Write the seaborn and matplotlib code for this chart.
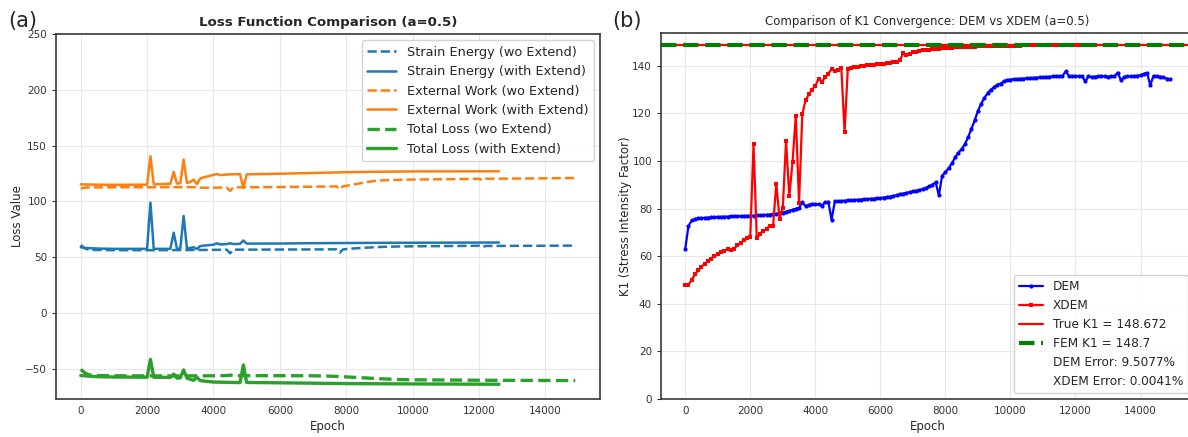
import matplotlib
matplotlib.use("Agg")
import matplotlib.pyplot as plt
import numpy as np
import pandas as pd
import seaborn as sns

# ---------------- Panel (a): loss terms ----------------
se_wo_epoch = [0, 100, 200, 400, 1000, 2000, 3000, 3500, 4000, 4400, 4500, 4600, 5000, 6000, 7000,
               7700, 7800, 7900, 8200, 8600, 9000, 9500, 10000, 11000, 12000, 12100, 12200, 13000, 14000, 14900]
se_wo_value = [61.0, 58.5, 57.0, 56.5, 56.3, 56.3, 56.4, 56.5, 56.6, 56.8, 53.5, 56.8, 56.8, 56.9, 57.0,
               57.1, 54.0, 57.0, 57.8, 58.6, 59.2, 59.6, 59.8, 60.0, 60.3, 59.0, 60.1, 60.2, 60.3, 60.4]

se_ext_epoch = [0, 100, 500, 1000, 2000, 2100, 2200, 2700, 2800, 2900, 3000, 3100, 3200, 3300, 3400,
                3500, 3600, 3800, 4000, 4100, 4200, 4400, 4500, 4600, 4800, 4900, 5000, 6000, 7000, 9000, 12600]
se_ext_value = [59.0, 58.3, 57.8, 57.5, 57.5, 99.0, 57.5, 57.5, 72.0, 57.5, 58.0, 87.0, 58.0, 58.3, 59.0,
                57.3, 60.0, 60.7, 61.2, 62.5, 61.5, 61.8, 62.5, 61.8, 62.0, 65.0, 62.2, 62.3, 62.6, 62.9, 63.2]

ew_wo_epoch = [0, 100, 300, 1000, 2000, 3000, 3500, 3600, 4000, 4400, 4500, 4600, 5000, 6000, 7000,
               7700, 7800, 7900, 8200, 8600, 9000, 9500, 10000, 11000, 12000, 12100, 12200, 13000, 14000, 14900]
ew_wo_value = [111.5, 112.3, 112.6, 112.7, 112.7, 112.8, 112.8, 112.3, 112.3, 112.4, 109.5, 112.6, 112.7, 112.9, 113.2,
               113.5, 111.0, 113.5, 115.0, 117.3, 118.8, 119.3, 119.6, 119.9, 120.3, 119.0, 120.3, 120.5, 120.7, 121.0]

ew_ext_epoch = [0, 500, 1000, 2000, 2100, 2200, 2700, 2800, 2900, 3000, 3100, 3200, 3300, 3400, 3500,
                3600, 3700, 3900, 4100, 4200, 4500, 4800, 4900, 5000, 6000, 7000, 8000, 9000, 10000, 12600]
ew_ext_value = [115.3, 115.0, 114.9, 115.0, 140.5, 115.3, 115.8, 126.5, 116.0, 116.3, 137.5, 116.5, 117.5, 119.5, 115.5,
                120.5, 121.5, 123.0, 124.6, 123.6, 124.3, 124.5, 112.0, 124.3, 124.8, 125.5, 126.2, 126.6, 126.9, 127.0]

tl_wo_epoch = [0, 100, 200, 300, 500, 1000, 2000, 3000, 4000, 4400, 4500, 4600, 5000, 6000, 7000,
               7500, 8000, 8500, 9000, 9500, 10000, 12000, 14900]
tl_wo_value = [-50.5, -53.0, -54.8, -55.6, -56.0, -56.2, -56.3, -56.3, -56.2, -56.0, -55.6, -56.0, -56.1, -56.1, -56.2,
               -56.5, -57.2, -58.0, -58.8, -59.5, -59.8, -60.2, -60.5]

tl_ext_epoch = [0, 500, 1000, 2000, 2100, 2200, 2700, 2800, 2900, 3000, 3100, 3200, 3400, 3500, 3600,
                3800, 4000, 4800, 4900, 5000, 6000, 8000, 10000, 12600]
tl_ext_value = [-56.0, -57.0, -57.3, -57.5, -41.5, -57.5, -57.6, -54.7, -58.3, -58.0, -51.0, -58.3, -60.3, -57.5, -60.5,
                -61.2, -61.8, -62.3, -46.5, -62.2, -62.5, -63.2, -63.5, -63.8]

# ---------------- Panel (b): K1 convergence (every 100 epochs) ----------------
dem_k1 = [
    63.0, 72.7, 75.0, 75.6, 75.9, 76.0, 76.1, 76.2, 76.3, 76.4,
    76.5, 76.5, 76.6, 76.6, 76.7, 76.7, 76.8, 76.8, 76.9, 76.9,
    77.0, 77.0, 77.1, 77.2, 77.3, 77.4, 77.5, 77.6, 77.8, 78.0,
    78.3, 78.6, 79.0, 79.5, 79.9, 80.3, 82.6, 81.0, 81.5, 82.0,
    81.8, 81.9, 81.2, 82.6, 82.8, 75.3, 83.0, 83.1, 83.2, 83.3,
    83.4, 83.5, 83.6, 83.7, 83.8, 83.9, 84.0, 84.1, 84.2, 84.3,
    84.4, 84.6, 84.8, 85.0, 85.3, 85.6, 86.0, 86.3, 86.6, 86.9,
    87.2, 87.5, 87.8, 88.2, 88.7, 89.3, 90.0, 91.0, 85.6, 93.8,
    95.2, 97.0, 99.0, 101.5, 103.5, 105.0, 107.0, 110.0, 113.5, 117.0,
    121.0, 124.0, 126.5, 128.5, 130.0, 131.0, 132.0, 132.5, 133.5, 134.0,
    134.2, 134.3, 134.4, 134.5, 134.6, 134.7, 134.8, 134.9, 135.0, 135.1,
    135.2, 135.3, 135.4, 135.5, 135.5, 135.6, 135.7, 137.6, 135.7, 135.6,
    135.7, 135.5, 135.6, 133.4, 135.5, 135.3, 135.4, 135.6, 135.5, 135.6,
    135.4, 135.5, 135.6, 137.1, 133.8, 135.3, 135.6, 135.5, 135.6, 135.8,
    136.0, 136.6, 137.0, 131.8, 135.8, 135.6, 135.4, 135.2, 134.6, 134.3,
]
xdem_k1 = [
    47.8, 48.0, 50.0, 52.3, 54.0, 55.5, 56.8, 58.0, 59.0, 60.0,
    60.8, 61.6, 62.3, 63.0, 62.4, 63.2, 64.5, 65.5, 66.7, 67.6,
    68.2, 107.0, 67.5, 69.3, 70.5, 71.5, 72.8, 72.5, 90.5, 75.8,
    80.3, 108.5, 85.2, 99.5, 119.0, 82.2, 119.6, 125.5, 128.0, 130.0,
    131.5, 134.6, 133.3, 135.1, 136.7, 138.5, 137.8, 138.2, 139.2, 112.0,
    138.8, 139.2, 139.4, 139.6, 139.8, 140.0, 140.2, 140.3, 140.5, 140.6,
    140.8, 140.9, 141.1, 141.3, 141.5, 141.7, 142.2, 145.2, 144.3, 145.0,
    145.6, 145.9, 146.2, 146.4, 146.6, 146.8, 147.0, 147.1, 147.2, 147.3,
    147.4, 147.5, 147.6, 147.7, 147.8, 147.8, 147.9, 147.9, 148.0, 148.0,
    148.1, 148.1, 148.1, 148.2, 148.2, 148.2, 148.3, 148.3, 148.3, 148.3,
    148.4, 148.4, 148.4, 148.4, 148.5, 148.5, 148.5, 148.5, 148.5, 148.5,
    148.6, 148.6, 148.6, 148.6, 148.6, 148.6, 148.6, 148.6, 148.6, 148.6,
    148.6, 148.7, 148.7, 148.7, 148.7, 148.7, 148.7,
]
epoch_step = 100
true_k1 = 148.672
fem_k1 = 148.7
dem_error = 9.5077
xdem_error = 0.0041

dem_epoch = np.arange(len(dem_k1)) * epoch_step
xdem_epoch = np.arange(len(xdem_k1)) * epoch_step

# ---------------- Style ----------------
sns.set_theme(style="ticks")
plt.rcParams["font.family"] = ["DejaVu Sans"]
spine_col = "#3a3a3a"
grid_col = "#e8e8e8"

fig = plt.figure(figsize=(11.88, 4.37), dpi=100)
W, H = 1188.0, 437.0
ax1 = fig.add_axes([56 / W, 38 / H, 544 / W, 365 / H])
ax2 = fig.add_axes([661 / W, 38 / H, 533 / W, 366 / H])

blue, orange, green = "#1f77b4", "#ff7f0e", "#2ca02c"
loss_series = [
    (se_wo_epoch, se_wo_value, blue, "--", 1.8, "Strain Energy (wo Extend)"),
    (se_ext_epoch, se_ext_value, blue, "-", 1.8, "Strain Energy (with Extend)"),
    (ew_wo_epoch, ew_wo_value, orange, "--", 1.8, "External Work (wo Extend)"),
    (ew_ext_epoch, ew_ext_value, orange, "-", 1.8, "External Work (with Extend)"),
    (tl_wo_epoch, tl_wo_value, green, "--", 2.4, "Total Loss (wo Extend)"),
    (tl_ext_epoch, tl_ext_value, green, "-", 2.4, "Total Loss (with Extend)"),
]
for ep, val, col, ls, lw, lab in loss_series:
    sns.lineplot(x=ep, y=val, ax=ax1, color=col, linestyle=ls, linewidth=lw, label=lab)

ax1.set_ylim(-77, 250)
ax1.set_yticks([-50, 0, 50, 100, 150, 200, 250])
ax1.set_xticks(range(0, 14001, 2000))
ax1.set_title("Loss Function Comparison (a=0.5)", fontsize=9.6, fontweight="bold", pad=6)
ax1.set_xlabel("Epoch", fontsize=8.5, labelpad=3)
ax1.set_ylabel("Loss Value", fontsize=8.5, labelpad=1)
ax1.legend(loc="upper right", fontsize=9.3, framealpha=0.85, edgecolor="#cccccc",
           fancybox=True, handlelength=2.3)

# Panel (b)
sns.lineplot(x=dem_epoch, y=dem_k1, ax=ax2, color="blue", linewidth=1.6, marker="o",
             markersize=3, markeredgewidth=0, label="DEM")
sns.lineplot(x=xdem_epoch, y=xdem_k1, ax=ax2, color="red", linewidth=1.6, marker="s",
             markersize=3.4, markeredgewidth=0, label="XDEM")
ax2.axhline(true_k1, color="red", linewidth=1.6, label=f"True K1 = {true_k1}")
ax2.axhline(fem_k1, color="green", linestyle="--", linewidth=3, label=f"FEM K1 = {fem_k1}")
ax2.plot([], [], " ", label=f"DEM Error: {dem_error:.4f}%")
ax2.plot([], [], " ", label=f"XDEM Error: {xdem_error:.4f}%")
ax2.set_ylim(bottom=0)
ax2.set_yticks(range(0, 141, 20))
ax2.set_xticks(range(0, 14001, 2000))
ax2.set_title("Comparison of K1 Convergence: DEM vs XDEM (a=0.5)", fontsize=8.5, pad=6)
ax2.set_xlabel("Epoch", fontsize=8.5, labelpad=3)
ax2.set_ylabel("K1 (Stress Intensity Factor)", fontsize=8.5, labelpad=0)
ax2.legend(loc="lower right", fontsize=8.7, framealpha=0.85, edgecolor="#cccccc", fancybox=True)

for ax in (ax1, ax2):
    ax.grid(True, color=grid_col, linewidth=0.8)
    ax.set_axisbelow(True)
    for s in ax.spines.values():
        s.set_color(spine_col)
        s.set_linewidth(1.2)
    ax.tick_params(axis="both", labelsize=7.5, colors="#333333", length=3, width=0.8)
    ax.tick_params(axis="x", length=0, pad=5)

fig.text(8 / W, 1 - 27 / H, "(a)", fontsize=15, va="baseline", ha="left")
fig.text(612 / W, 1 - 27 / H, "(b)", fontsize=15, va="baseline", ha="left")

fig.savefig("out.png", dpi=100)
